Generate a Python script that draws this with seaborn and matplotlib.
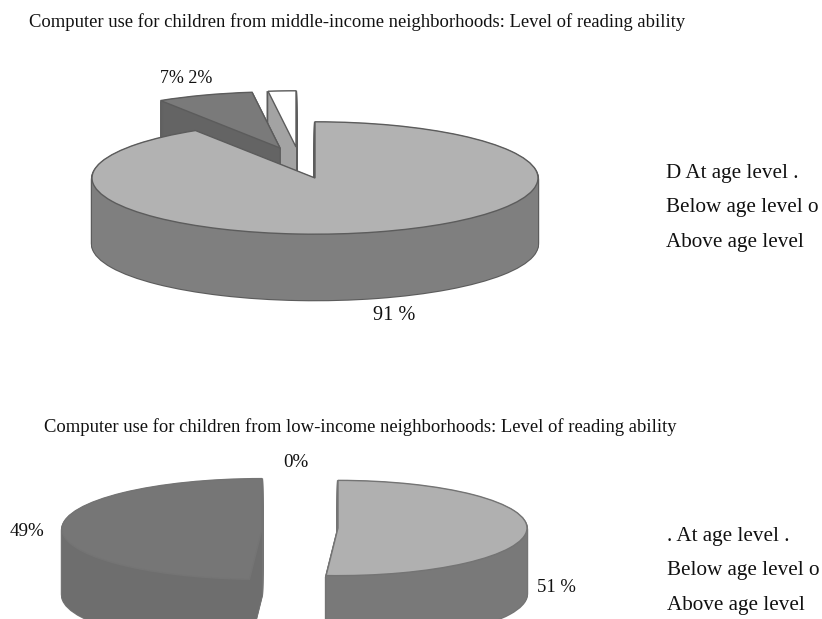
#!/usr/bin/env python3

import matplotlib.pyplot as plt
import seaborn as sns

W, H = 822, 619
SQUASH = 0.252
DEPTH = 66

sns.set_theme(style="white")
plt.rcParams["font.family"] = ["Liberation Serif", "DejaVu Serif"]
plt.rcParams["font.size"] = 13.4
plt.rcParams["text.color"] = "#111111"

title_middle = "Computer use for children from middle-income neighborhoods: Level of reading ability"
title_low = "Computer use for children from low-income neighborhoods: Level of reading ability"

middle_values = [91, 7, 2]
low_values = [51, 49, 0]

legend_middle = ["D At age level .", "Below age level o", "Above age level"]
legend_low = [". At age level .", "Below age level o", "Above age level"]

# top face, side, per slice
middle_colors = [("#b2b2b2", "#7f7f7f"), ("#7a7a7a", "#646464"), ("#ffffff", "#a3a3a3")]
low_colors = [("#b0b0b0", "#797979"), ("#767676", "#6e6e6e")]


def to_y(py):
    return (H - py) / SQUASH


def draw_slice(ax, value, start, cx, cy, radius, top, side, outline="#5c5c5c"):
    # one wedge, stacked downward to get the 3d wall
    kw = dict(startangle=start, counterclock=False, normalize=False, radius=radius)
    layers = [cy + d for d in range(DEPTH, 0, -1)]
    frac = [value / 100]
    for py in layers:
        ax.pie(frac, center=(cx, to_y(py)), colors=[side], frame=True,
               wedgeprops=dict(edgecolor=outline, linewidth=1.6), **kw)
    for py in layers:
        ax.pie(frac, center=(cx, to_y(py)), colors=[side], frame=True,
               wedgeprops=dict(edgecolor="none"), **kw)
    ax.pie(frac, center=(cx, to_y(cy)), colors=[top], frame=True,
           wedgeprops=dict(edgecolor=outline, linewidth=1.0), **kw)


def start_angles(values):
    angles = []
    a = 90
    for v in values:
        angles.append(a)
        a -= v * 3.6
    return angles


fig = plt.figure(figsize=(W / 100, H / 100), dpi=100)
ax = fig.add_axes([0, 0, 1, 1])

# upper pie, small slices are at the back
starts = start_angles(middle_values)
draw_slice(ax, middle_values[2], starts[2], 296, 147, 223, *middle_colors[2])
draw_slice(ax, middle_values[1], starts[1], 280, 148, 223, *middle_colors[1])
draw_slice(ax, middle_values[0], starts[0], 315, 178, 223, *middle_colors[0])

# lower pie, the 0% slice has nothing to draw
starts = start_angles(low_values)
draw_slice(ax, low_values[1], starts[1], 262, 529, 200, *low_colors[1], outline="#747474")
draw_slice(ax, low_values[0], starts[0], 338, 528, 189, *low_colors[0], outline="#747474")

ax.set_xlim(0, W)
ax.set_ylim(0, H / SQUASH)
ax.set_aspect("auto")
ax.axis("off")

ax.text(29, to_y(27), title_middle, va="baseline")
ax.text(44, to_y(432), title_low, va="baseline")

ax.text(160, to_y(83), f"{middle_values[1]}% {middle_values[2]}%", va="baseline", fontsize=13)
ax.text(373, to_y(320), f"{middle_values[0]} %", va="baseline", fontsize=14.6)
ax.text(283, to_y(467), f"{low_values[2]}%", va="baseline", fontsize=13.7)
ax.text(10, to_y(536), f"{low_values[1]}%", va="baseline", fontsize=13.7)
ax.text(537, to_y(592), f"{low_values[0]} %", va="baseline", fontsize=13.4)

for label, py in zip(legend_middle, [178, 212, 247]):
    ax.text(666, to_y(py), label, va="baseline", fontsize=15.2)
for label, py in zip(legend_low, [541, 575, 610]):
    ax.text(667, to_y(py), label, va="baseline", fontsize=15.2)

fig.savefig("out.png", dpi=100)
